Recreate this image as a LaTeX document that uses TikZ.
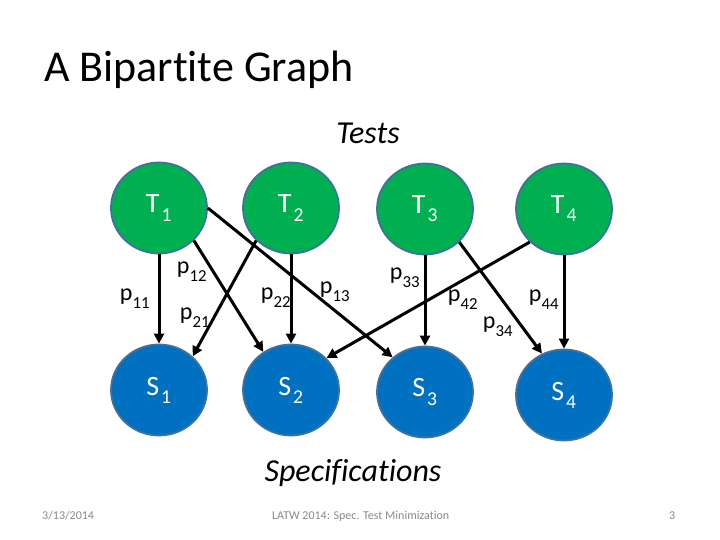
\documentclass[tikz,border=0pt]{standalone}
\usepackage{fontspec}
\setmainfont[Ligatures=NoCommon]{Carlito}
\usetikzlibrary{arrows.meta,shapes.geometric}
\definecolor{tgreen}{HTML}{00B050}
\definecolor{sblue}{HTML}{0070C0}
\definecolor{rim}{HTML}{41719C}
\definecolor{foot}{HTML}{898989}
\newcommand{\lsub}[2]{\kern#1\raisebox{-4pt}{\textsubscript{#2}}}
\begin{document}
\begin{tikzpicture}[x=1pt,y=-1pt,
  vert/.style={ellipse,minimum width=96pt,minimum height=91pt,draw=rim,line width=1.8pt,text=white,font=\fontsize{28}{32}\selectfont,inner sep=0pt},
  tnode/.style={vert,fill=tgreen},
  snode/.style={vert,fill=sblue},
  edge/.style={line width=3pt,-{Triangle[length=10pt,width=10pt]}},
  plab/.style={font=\fontsize{24}{28}\selectfont,inner sep=0pt},
  foottext/.style={font=\fontsize{12}{14}\selectfont,text=foot,inner sep=0pt,anchor=base west}]
\useasboundingbox (0,0) rectangle (720,540);
\node[anchor=base west,font=\fontsize{44}{48}\selectfont,inner sep=0pt] (title) at (44,82) {A Bipartite Graph};
\node[font=\itshape\fontsize{32}{36}\selectfont,inner sep=0pt] (tests) at (368,133) {Tests};
\node[font=\itshape\fontsize{32}{36}\selectfont,inner sep=0pt] (specs) at (353,473) {Specifications};
\node[tnode] (T1) at (159,208) {T\lsub{2pt}{1}};
\node[tnode] (T2) at (291,208) {T\lsub{2pt}{2}};
\node[tnode] (T3) at (425,209) {T\lsub{2pt}{3}};
\node[tnode] (T4) at (564,209) {T\lsub{2pt}{4}};
\node[snode] (S1) at (159,390) {S\lsub{2pt}{1}};
\node[snode] (S2) at (291,390) {S\lsub{2pt}{2}};
\node[snode] (S3) at (425,392) {S\lsub{2pt}{3}};
\node[snode] (S4) at (564,395) {S\lsub{2pt}{4}};
\draw[edge] (T1.south) -- (S1.north);
\draw[edge] (T1.-43) -- (S2.126);
\draw[edge] (T1.east) -- (S3.133);
\draw[edge] (T2.223) -- (S1.45);
\draw[edge] (T2.south) -- (S2.north);
\draw[edge] (T4.224) -- (S2.42);
\draw[edge] (T3.south) -- (S3.north);
\draw[edge] (T3.-44) -- (S4.118);
\draw[edge] (T4.south) -- (S4.north);
\node[plab] (l11) at (135,299) {p\lsub{0pt}{11}};
\node[plab] (l12) at (192,272) {p\lsub{0pt}{12}};
\node[plab] (l21) at (195,318) {p\lsub{0pt}{21}};
\node[plab] (l22) at (276,298) {p\lsub{0pt}{22}};
\node[plab] (l13) at (335,292) {p\lsub{0pt}{13}};
\node[plab] (l33) at (405,278) {p\lsub{0pt}{33}};
\node[plab] (l42) at (463,300) {p\lsub{0pt}{42}};
\node[plab] (l34) at (498,327) {p\lsub{0pt}{34}};
\node[plab] (l44) at (544,300) {p\lsub{0pt}{44}};
\node[foottext] (date) at (42,519) {3/13/2014};
\node[foottext] (conf) at (272,519) {LATW 2014: Spec. Test Minimization};
\node[foottext] (page) at (669,519) {3};
\end{tikzpicture}
\end{document}
